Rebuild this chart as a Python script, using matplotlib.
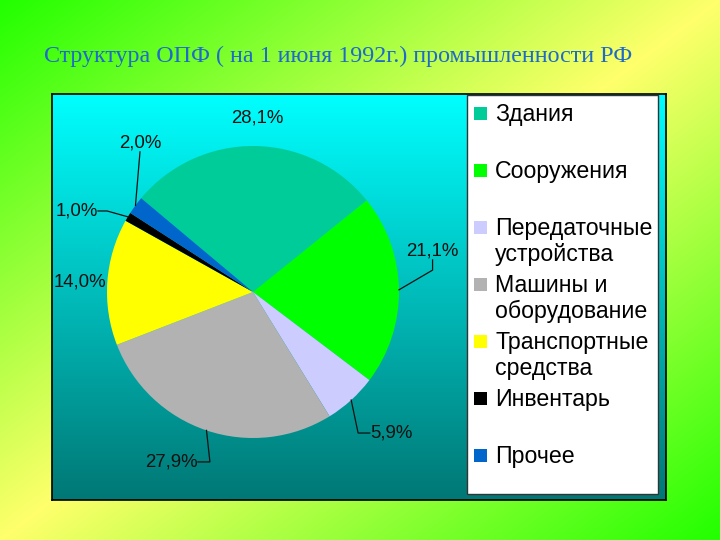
import numpy as np
import matplotlib
matplotlib.use('Agg')
import matplotlib.pyplot as plt
from matplotlib.patches import Rectangle

plt.rcParams['font.family'] = ['Liberation Sans', 'DejaVu Sans']

W, H = 720, 540

title = 'Структура ОПФ ( на 1 июня 1992г.) промышленности РФ'
categories = ['Здания', 'Сооружения', 'Передаточные\nустройства', 'Машины и\nоборудование',
              'Транспортные\nсредства', 'Инвентарь', 'Прочее']
shares = [28.1, 21.1, 5.9, 27.9, 14.0, 1.0, 2.0]
value_labels = ['28,1%', '21,1%', '5,9%', '27,9%', '14,0%', '1,0%', '2,0%']
colors = ['#00cc99', '#00ff00', '#ccccff', '#b2b2b2', '#ffff00', '#000000', '#0066cc']

# where the value labels sit (pie radius units): anchor, ha, va, elbow of leader (None = no leader)
label_place = [
    ((0.03, 1.19), 'center', 'center', None),
    ((1.23, 0.22), 'center', 'bottom', (1.23, 0.15)),
    ((0.80, -0.966), 'left', 'center', (0.72, -0.966)),
    ((-0.377, -1.164), 'right', 'center', (-0.295, -1.164)),
    ((-1.185, 0.068), 'center', 'center', None),
    ((-1.062, 0.555), 'right', 'center', (-1.0, 0.555)),
    ((-0.774, 0.96), 'center', 'bottom', (-0.774, 0.96)),
]


def px(x, y):
    # pixel position (from top-left) -> figure fraction
    return x / W, 1 - y / H


fig = plt.figure(figsize=(7.2, 5.4), dpi=100)

# slide background: green corners, yellow band along the anti-diagonal
bg = fig.add_axes([0, 0, 1, 1])
xx, yy = np.meshgrid(np.linspace(0, 1, W), np.linspace(0, 1, H))
t = 1 - np.abs((xx + yy) - 1)
green = np.array([0.13, 1.0, 0.0])
yellow = np.array([1.0, 1.0, 0.42])
img = green + (yellow - green) * t[..., None]
bg.imshow(img, aspect='auto', extent=(0, 1, 0, 1), origin='upper')
bg.set_axis_off()

fig.text(*px(44, 56), title, family=['Liberation Serif', 'DejaVu Serif'], fontsize=17.3,
         color='#1f6ac8', va='center', ha='left')

# chart panel with vertical cyan -> teal gradient
panel = fig.add_axes([52 / W, (H - 500) / H, 614 / W, 406 / H])
g = np.linspace(0, 1, 256)[:, None]
top = np.array([0.0, 1.0, 1.0])
bottom = np.array([0.0, 0.47, 0.46])
panel.imshow((top + (bottom - top) * g[..., None]) * np.ones((1, 2, 1)),
             aspect='auto', extent=(0, 1, 0, 1), origin='upper')
panel.set_xticks([])
panel.set_yticks([])
for s in panel.spines.values():
    s.set_color('black')
    s.set_linewidth(1.2)

# pie
R = 146
ax = fig.add_axes([(253 - 200) / W, (H - 292 - 200) / H, 400 / W, 400 / H])
wedges, _ = ax.pie(shares, colors=colors, startangle=140, counterclock=False,
                   radius=1, wedgeprops=dict(linewidth=0))
lim = 200 / R
ax.set_xlim(-lim, lim)
ax.set_ylim(-lim, lim)
ax.set_facecolor('none')
ax.set_axis_off()

for w, lab, (anchor, ha, va, elbow) in zip(wedges, value_labels, label_place):
    ax.text(anchor[0], anchor[1], lab, ha=ha, va=va, fontsize=13.4, color='#111111')
    if elbow is not None:
        mid = np.deg2rad((w.theta1 + w.theta2) / 2)
        ex, ey = np.cos(mid), np.sin(mid)
        ax.plot([anchor[0], elbow[0], ex], [anchor[1], elbow[1], ey],
                color='#111111', lw=0.9, solid_joinstyle='miter')

# legend drawn by hand
x0, y0 = px(467, 494)
fig.add_artist(Rectangle((x0, y0), 191 / W, 399 / H, transform=fig.transFigure,
                         facecolor='white', edgecolor='#333333', lw=1))
for i, (cat, col) in enumerate(zip(categories, colors)):
    y = 113 + 57 * i
    sx, sy = px(474, y + 7)
    fig.add_artist(Rectangle((sx, sy), 13 / W, 13 / H, transform=fig.transFigure,
                             facecolor=col, edgecolor='none'))
    fig.text(*px(495, y - 10), cat, fontsize=16.7, va='top', ha='left',
             linespacing=1.17, color='black')

fig.savefig('out.png', dpi=100)
